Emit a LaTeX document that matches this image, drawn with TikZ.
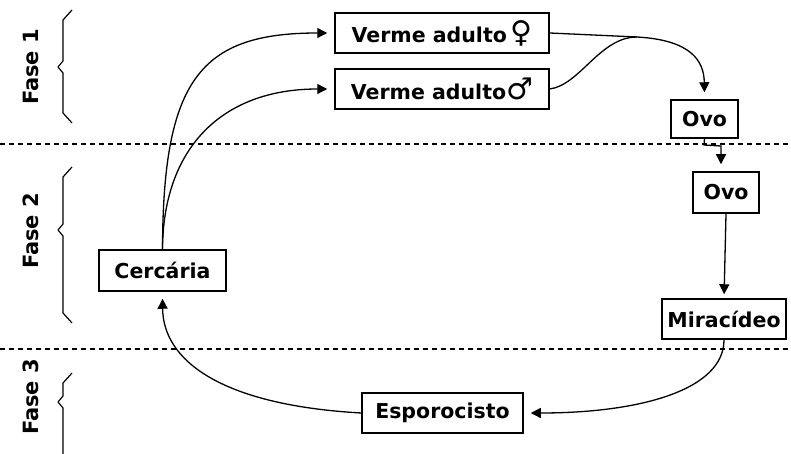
\documentclass[tikz,border=0pt]{standalone}
\usepackage{fontspec}
\setmainfont{DejaVu Sans}
\usetikzlibrary{arrows.meta}
\tikzset{
  stagebox/.style={draw, line width=1.5pt, inner sep=0pt, font=\fontsize{20.5}{24}\selectfont\bfseries},
  conn/.style={line width=1.3pt, -{Triangle[length=10pt,width=10pt]}, shorten >=7pt},
  plainconn/.style={line width=1.3pt},
  sepline/.style={line width=1.5pt, dash pattern=on 5pt off 4pt},
  brace/.style={line width=1.2pt, line join=round},
  fase/.style={rotate=90, font=\fontsize{21}{24}\selectfont\bfseries}
}
\begin{document}
\begin{tikzpicture}[x=1pt,y=-1pt]
\useasboundingbox (0,0) rectangle (791,454);
% separators
\draw[sepline] (0,144) -- (791,144);
\draw[sepline] (0,349) -- (791,349);
% phase labels and braces
\node[fase] (f1) at (31,67) {Fase 1};
\node[fase] (f2) at (31,231) {Fase 2};
\node[fase] (f3) at (31,397) {Fase 3};
\draw[brace] (72,10) -- (63,20) -- (63,61) -- (58,67) -- (63,73) -- (63,113) -- (72,123);
\draw[brace] (72,167) -- (63,177) -- (63,224) -- (58,230) -- (63,236) -- (63,313) -- (72,323);
\draw[brace] (72,373) -- (63,383) -- (63,396) -- (58,402) -- (63,408) -- (63,454);
% boxes
\node[stagebox, minimum width=214pt, minimum height=40pt] (VF) at (442,33) {Verme adulto\,{\fontsize{30}{30}\selectfont\mdseries ♀}};
\node[stagebox, minimum width=214pt, minimum height=40pt] (VM) at (442,89) {Verme adulto{\fontsize{30}{30}\selectfont\mdseries ♂}};
\node[stagebox, minimum width=67pt, minimum height=38pt] (O1) at (704.5,119) {Ovo};
\node[stagebox, minimum width=66pt, minimum height=41pt] (O2) at (726,192.5) {Ovo};
\node[stagebox, minimum width=124pt, minimum height=40pt] (MI) at (724,319) {Miracídeo};
\node[stagebox, minimum width=127pt, minimum height=41pt] (CE) at (162.5,270.5) {Cercária};
\node[stagebox, minimum width=161pt, minimum height=40pt] (ES) at (442.5,413) {Esporocisto};
% join points
\coordinate (J) at (637,37);
\coordinate (K) at (704,145);
\coordinate (L) at (721,146);
% connectors
\draw[conn] (CE.north) .. controls (163,80) and (200,33) .. (VF.west);
\draw[conn] (CE.north) .. controls (163,150) and (220,89) .. (VM.west);
\draw[conn] (VF.east) -- (J) .. controls (690,40) and (704,60) .. (O1.north);
\draw[plainconn] (VM.east) .. controls (580,85) and (600,37) .. (J);
\draw[conn] (O1.south) -- (K) -- (L) -- (O2.north -| L);
\draw[conn, shorten >=4pt] (O2.south) -- (MI.north);
\draw[conn] (MI.south) .. controls (724,390) and (640,413) .. (ES.east);
\draw[conn] (ES.west) .. controls (220,405) and (163,360) .. (CE.south);
\end{tikzpicture}
\end{document}
